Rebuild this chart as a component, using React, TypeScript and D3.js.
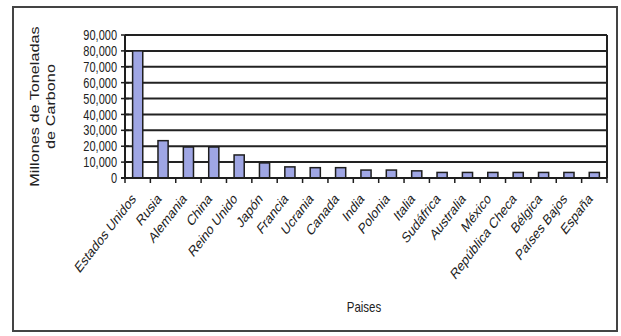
import React from "react";
import * as d3 from "d3";

const countries = [
  "Estados Unidos", "Rusia", "Alemania", "China", "Reino Unido", "Japón", "Francia",
  "Ucrania", "Canada", "India", "Polonia", "Italia", "Sudáfrica", "Australia",
  "México", "República Checa", "Bélgica", "Países Bajos", "España",
];
const emissions = [
  80000, 23500, 19500, 19500, 14500, 9500, 7000, 6500, 6500, 5000, 5000, 4500,
  3500, 3500, 3500, 3500, 3500, 3500, 3500,
];
const yTicks = [0, 10000, 20000, 30000, 40000, 50000, 60000, 70000, 80000, 90000];
const yTitleLines = ["Millones de Toneladas", "de Carbono"];
const xTitle = "Paises";

const W = 621;
const H = 336;
const plot = { left: 125, right: 607, top: 35, bottom: 178 };
const FONT = "'Liberation Sans', Arial, Helvetica, sans-serif";
const SY = 1.3;

export default function App() {
  const x = d3
    .scaleBand<string>()
    .domain(countries)
    .range([plot.left, plot.right])
    .paddingInner(0.6)
    .paddingOuter(0.3);
  const xb = d3.scaleBand<string>().domain(countries).range([plot.left, plot.right]);
  const y = d3.scaleLinear().domain([0, 90000]).range([plot.bottom, plot.top]);
  const fmt = d3.format(",");

  return (
    <svg
      width={W}
      height={H}
      style={{ position: "absolute", left: 0, top: 0, background: "#fff" }}
      fontFamily={FONT}
    >
      <rect x={0} y={0} width={W} height={H} fill="#fff" />
      <rect x={13} y={7} width={604} height={324} fill="#fff" stroke="#444" strokeWidth={2} />

      {/* gridlines */}
      {yTicks.map((t) => (
        <line
          key={"g" + t}
          x1={plot.left}
          x2={plot.right}
          y1={y(t)}
          y2={y(t)}
          stroke="#222"
          strokeWidth={2}
        />
      ))}
      <line x1={plot.right} x2={plot.right} y1={plot.top} y2={plot.bottom} stroke="#222" strokeWidth={2} />

      {/* bars */}
      {countries.map((c, i) => (
        <rect
          key={c}
          x={x(c)}
          y={y(emissions[i])}
          width={x.bandwidth()}
          height={plot.bottom - y(emissions[i])}
          fill="#9fa6e4"
          stroke="#1e1e1e"
          strokeWidth={1.5}
        />
      ))}

      {/* axes */}
      <line x1={plot.left} x2={plot.left} y1={plot.top} y2={plot.bottom} stroke="#1e1e1e" strokeWidth={2} />
      <line x1={plot.left - 4} x2={plot.right} y1={plot.bottom} y2={plot.bottom} stroke="#1e1e1e" strokeWidth={2} />
      {yTicks.map((t) => (
        <line key={"yt" + t} x1={plot.left - 4} x2={plot.left + 4} y1={y(t)} y2={y(t)} stroke="#1e1e1e" strokeWidth={1.5} />
      ))}
      {countries.map((c) => (
        <line
          key={"xt" + c}
          x1={xb(c)! + xb.bandwidth()}
          x2={xb(c)! + xb.bandwidth()}
          y1={plot.bottom}
          y2={plot.bottom + 5}
          stroke="#1e1e1e"
          strokeWidth={1.5}
        />
      ))}
      <line x1={plot.left} x2={plot.left} y1={plot.bottom} y2={plot.bottom + 5} stroke="#1e1e1e" strokeWidth={1.5} />

      {/* y tick labels */}
      {yTicks.map((t) => (
        <g key={"yl" + t} transform={`translate(${plot.left - 8},${y(t)}) scale(1,${SY})`}>
          <text textAnchor="end" dy="0.36em" fontSize={11} fill="#222">
            {fmt(t)}
          </text>
        </g>
      ))}

      {/* x labels */}
      {countries.map((c) => (
        <g
          key={"xl" + c}
          transform={`translate(${xb(c)! + xb.bandwidth() / 2 - 4},${plot.bottom + 18}) scale(1,${SY}) rotate(-45)`}
        >
          <text textAnchor="end" dy="0.35em" fontSize={11.5} fill="#222">
            {c}
          </text>
        </g>
      ))}

      {/* y title */}
      {yTitleLines.map((l, i) => (
        <g key={"yt" + i} transform={`translate(${39 + i * 16},${(plot.top + plot.bottom) / 2}) scale(1,${SY}) rotate(-90)`}>
          <text textAnchor="middle" fontSize={12.5} fill="#222">
            {l}
          </text>
        </g>
      ))}

      {/* x title */}
      <g transform={`translate(${(plot.left + plot.right) / 2 - 2},312) scale(1,${SY})`}>
        <text textAnchor="middle" fontSize={11.5} fill="#222">
          {xTitle}
        </text>
      </g>
    </svg>
  );
}
